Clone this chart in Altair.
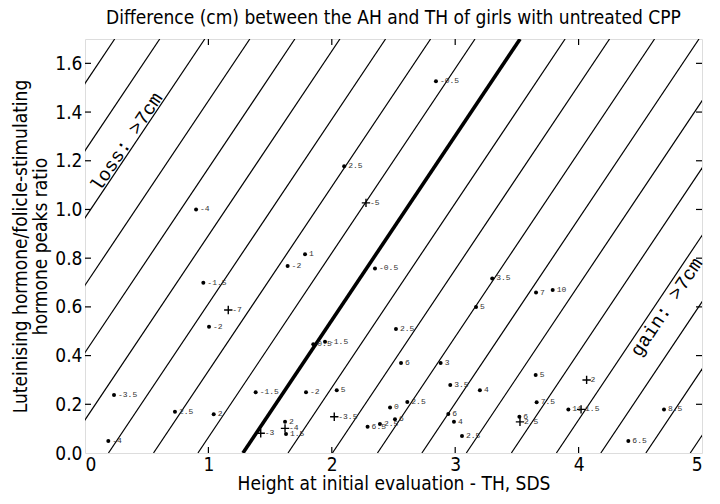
import altair as alt
import pandas as pd

# ---- data ----
pt_x = [1.161, 1.005, 0.235, 0.729, 1.043, 0.189, 1.383, 1.424, 1.85, 1.945,
        2.52, 2.561, 2.882, 1.791, 2.04, 2.96, 2.612, 2.472, 2.02, 2.512,
        2.39, 2.29, 2.944, 2.99, 3.055, 1.621, 1.621, 1.629, 0.959, 1.783,
        1.642, 2.35, 0.90, 2.10, 2.277, 2.844, 3.30, 3.655, 3.79, 3.169,
        3.652, 3.20, 3.66, 3.917, 4.02, 4.065, 4.403, 4.692, 3.52, 3.525]
pt_y = [0.587, 0.518, 0.238, 0.169, 0.159, 0.049, 0.249, 0.081, 0.447, 0.457,
        0.509, 0.370, 0.370, 0.249, 0.258, 0.279, 0.209, 0.187, 0.149, 0.139,
        0.119, 0.108, 0.160, 0.128, 0.070, 0.128, 0.101, 0.078, 0.699, 0.816,
        0.768, 0.758, 1.000, 1.177, 1.027, 1.527, 0.717, 0.659, 0.669, 0.600,
        0.320, 0.258, 0.208, 0.179, 0.179, 0.300, 0.049, 0.179, 0.149, 0.128]
pt_label = ["-7", "-2", "-3.5", "2.5", "2", "-4", "-1.5", "-3", "0.5", "-1.5",
            "2.5", "6", "3", "-2", "5", "3.5", "2.5", "0", "-3.5", "6",
            "2.5", "6.5", "6", "4", "2.5", "2", "-4", "1.5", "-1.5", "1",
            "-2", "-0.5", "-4", "2.5", "-5", "-0.5", "3.5", "7", "10", "5",
            "5", "4", "7.5", "11", "1.5", "2", "6.5", "8.5", "6", "2.5"]
pt_kind = ["plus", "dot", "dot", "dot", "dot", "dot", "dot", "plus", "dot", "dot",
           "dot", "dot", "dot", "dot", "dot", "dot", "dot", "dot", "plus", "dot",
           "dot", "dot", "dot", "dot", "dot", "dot", "plus", "dot", "dot", "dot",
           "dot", "dot", "dot", "dot", "plus", "dot", "dot", "dot", "dot", "dot",
           "dot", "dot", "dot", "dot", "plus", "plus", "dot", "dot", "dot", "plus"]

# x-intercepts (at y = 0) of the iso-difference lines
thin_x0 = [-2.005, -1.64, -1.275, -0.91, -0.545, -0.18, 0.19, 0.555, 0.915,
           1.645, 2.005, 2.37, 2.73, 3.09, 3.455, 3.82, 4.18, 4.545, 4.905]
thick_x0 = [1.28]
line_slope = 0.757

X_MIN, X_MAX = 0, 5
Y_MIN, Y_MAX = 0, 1.7
x_tick_vals = [0, 1, 2, 3, 4, 5]
y_tick_vals = [0.0, 0.2, 0.4, 0.6, 0.8, 1.0, 1.2, 1.4, 1.6]
inner_x_ticks = [1, 2, 3, 4]
inner_y_ticks = [0.2, 0.4, 0.6, 0.8, 1.0, 1.2, 1.4, 1.6]

ann_text = ["loss: >7cm", "gain: >7cm"]
ann_x = [0.336, 4.712]
ann_y = [1.278, 0.599]

TITLE = "Difference (cm) between the AH and TH of girls with untreated CPP"
X_TITLE = "Height at initial evaluation - TH, SDS"
Y_TITLE = ["Luteinising hormone/folicle-stimulating", "hormone peaks ratio"]

# ---- tables ----
pts = pd.DataFrame({"x": pt_x, "y": pt_y, "label": pt_label, "kind": pt_kind})
dots = pts[pts.kind == "dot"]
pluses = pts[pts.kind == "plus"]

def lines_df(x0s):
    return pd.DataFrame({
        "x": x0s,
        "y": [Y_MIN] * len(x0s),
        "x2": [v + (Y_MAX - Y_MIN) / line_slope for v in x0s],
        "y2": [Y_MAX] * len(x0s),
    })

thin = lines_df(thin_x0)
thick = lines_df(thick_x0)
xt = pd.DataFrame({"x": inner_x_ticks})
yt = pd.DataFrame({"y": inner_y_ticks})
ann = pd.DataFrame({"x": ann_x, "y": ann_y, "t": ann_text})

W, H = 617, 414
FONT = "Liberation Sans Narrow, DejaVu Sans Condensed, Arial Narrow, sans-serif"
MONO = "Liberation Mono, DejaVu Sans Mono, monospace"

xscale = alt.Scale(domain=[X_MIN, X_MAX], nice=False, zero=False)
yscale = alt.Scale(domain=[Y_MIN, Y_MAX], nice=False, zero=False)
xaxis = alt.Axis(values=x_tick_vals, format="d", grid=False, ticks=False, domain=False,
                 labelFont=FONT, labelFontSize=19, labelPadding=2, labelColor="black",
                 title=X_TITLE, titleFont=FONT, titleFontSize=19, titleFontWeight="normal",
                 titleColor="black", titlePadding=0)
yaxis = alt.Axis(values=y_tick_vals, format=".1f", grid=False, ticks=False, domain=False,
                 labelFont=FONT, labelFontSize=19, labelPadding=3, labelColor="black",
                 title=Y_TITLE, titleFont=FONT, titleFontSize=19, titleFontWeight="normal",
                 titleColor="black", titlePadding=4, titleLineHeight=20)

X = alt.X("x:Q", scale=xscale, axis=xaxis)
Y = alt.Y("y:Q", scale=yscale, axis=yaxis)

thin_layer = alt.Chart(thin).mark_rule(color="black", strokeWidth=1.2, clip=True).encode(
    x=X, y=Y, x2="x2:Q", y2="y2:Q")
thick_layer = alt.Chart(thick).mark_rule(color="black", strokeWidth=3.6, clip=True).encode(
    x=X, y=Y, x2="x2:Q", y2="y2:Q")

dot_layer = alt.Chart(dots).mark_circle(color="black", size=16, opacity=1).encode(x=X, y=Y)
plus_layer = alt.Chart(pluses).mark_point(
    shape="M-1,0L1,0M0,-1L0,1", size=70, filled=False, color="black", strokeWidth=1.4,
    opacity=1).encode(x=X, y=Y)
label_layer = alt.Chart(pts).mark_text(
    align="left", baseline="middle", dx=4, font=MONO, fontSize=8, color="#333333").encode(
    x=X, y=Y, text="label:N")

ann_layer = alt.Chart(ann).mark_text(
    align="center", baseline="middle", font=MONO, fontSize=19, color="black",
    angle=303.8).encode(x=X, y=Y, text="t:N")

tick_b = alt.Chart(xt).mark_rule(color="black", strokeWidth=1.2).encode(
    x=X, y=alt.value(H), y2=alt.value(H - 6))
tick_t = alt.Chart(xt).mark_rule(color="black", strokeWidth=1.2).encode(
    x=X, y=alt.value(0), y2=alt.value(6))
tick_l = alt.Chart(yt).mark_rule(color="black", strokeWidth=1.2).encode(
    y=Y, x=alt.value(0), x2=alt.value(6))
tick_r = alt.Chart(yt).mark_rule(color="black", strokeWidth=1.2).encode(
    y=Y, x=alt.value(W), x2=alt.value(W - 6))

chart = alt.layer(
    thin_layer, thick_layer, tick_b, tick_t, tick_l, tick_r,
    dot_layer, plus_layer, label_layer, ann_layer,
).properties(
    width=W, height=H,
    title=alt.TitleParams(TITLE, font=FONT, fontSize=19, fontWeight="normal",
                          color="black", anchor="middle", offset=10),
    autosize=alt.AutoSizeParams(type="none"),
    padding={"left": 77, "top": 31, "right": 10, "bottom": 50},
).configure_view(
    stroke="black", strokeWidth=2
).configure(background="white")

chart.save("out.html", embed_options={"renderer": "svg", "actions": False})
